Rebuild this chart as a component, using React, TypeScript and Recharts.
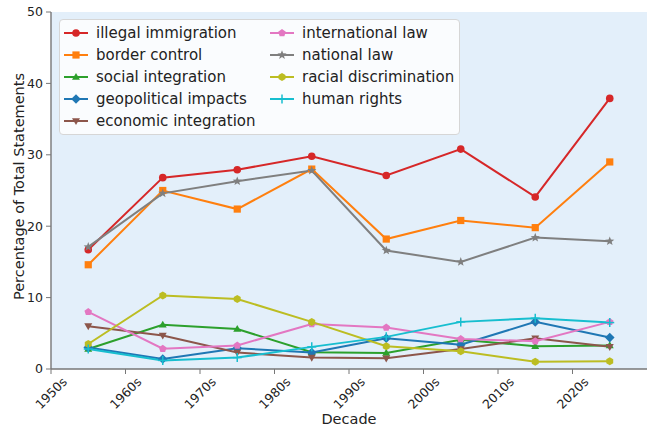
import React from 'react';
import { LineChart, Line, XAxis, YAxis, CartesianGrid, Legend } from 'recharts';

document.body.style.margin = '0';

const DECADES = ['1950s', '1960s', '1970s', '1980s', '1990s', '2000s', '2010s', '2020s'];
const Y_TICKS = [0, 10, 20, 30, 40, 50];

const illegalImmigration = [16.7, 26.8, 27.9, 29.8, 27.1, 30.8, 24.1, 37.9];
const borderControl = [14.6, 25.0, 22.4, 28.0, 18.2, 20.8, 19.8, 29.0];
const socialIntegration = [2.8, 6.2, 5.6, 2.35, 2.25, 4.1, 3.2, 3.3];
const geopoliticalImpacts = [3.0, 1.4, 2.9, 2.3, 4.3, 3.4, 6.6, 4.4];
const economicIntegration = [6.0, 4.7, 2.3, 1.6, 1.5, 2.8, 4.3, 3.1];
const internationalLaw = [8.0, 2.85, 3.3, 6.3, 5.8, 4.2, 3.9, 6.6];
const nationalLaw = [17.1, 24.6, 26.3, 27.8, 16.6, 15.0, 18.4, 17.9];
const racialDiscrimination = [3.5, 10.3, 9.8, 6.6, 3.2, 2.5, 1.0, 1.1];
const humanRights = [2.8, 1.2, 1.6, 3.1, 4.5, 6.6, 7.1, 6.5];

type MarkerKind = 'o' | 's' | '^' | 'D' | 'v' | 'p' | '*' | 'h' | '+';

const SERIES: { key: string; values: number[]; color: string; marker: MarkerKind }[] = [
  { key: 'illegal immigration', values: illegalImmigration, color: '#d62728', marker: 'o' },
  { key: 'border control', values: borderControl, color: '#ff7f0e', marker: 's' },
  { key: 'social integration', values: socialIntegration, color: '#2ca02c', marker: '^' },
  { key: 'geopolitical impacts', values: geopoliticalImpacts, color: '#1f77b4', marker: 'D' },
  { key: 'economic integration', values: economicIntegration, color: '#8c564b', marker: 'v' },
  { key: 'international law', values: internationalLaw, color: '#e377c2', marker: 'p' },
  { key: 'national law', values: nationalLaw, color: '#7f7f7f', marker: '*' },
  { key: 'racial discrimination', values: racialDiscrimination, color: '#bcbd22', marker: 'h' },
  { key: 'human rights', values: humanRights, color: '#17becf', marker: '+' },
];

const data = DECADES.map((d, i) => {
  const row: Record<string, number> = { year: parseInt(d, 10) + 5 };
  SERIES.forEach((s) => {
    row[s.key] = s.values[i];
  });
  return row;
});

const FONT = '"DejaVu Sans", sans-serif';
const SPINE = '#777';

const polygon = (cx: number, cy: number, n: number, r: number, rot: number) =>
  Array.from({ length: n }, (_, i) => {
    const a = rot + (i * 2 * Math.PI) / n;
    return `${cx + r * Math.cos(a)},${cy + r * Math.sin(a)}`;
  }).join(' ');

const star = (cx: number, cy: number, r: number) =>
  Array.from({ length: 10 }, (_, i) => {
    const a = -Math.PI / 2 + (i * Math.PI) / 5;
    const rr = i % 2 === 0 ? r : r * 0.42;
    return `${cx + rr * Math.cos(a)},${cy + rr * Math.sin(a)}`;
  }).join(' ');

const Marker = ({ cx, cy, kind, color }: { cx: number; cy: number; kind: MarkerKind; color: string }) => {
  switch (kind) {
    case 'o':
      return <circle cx={cx} cy={cy} r={3.8} fill={color} />;
    case 's':
      return <rect x={cx - 3.6} y={cy - 3.6} width={7.2} height={7.2} fill={color} />;
    case '^':
      return <polygon points={polygon(cx, cy + 0.5, 3, 4.6, -Math.PI / 2)} fill={color} />;
    case 'v':
      return <polygon points={polygon(cx, cy - 0.5, 3, 4.6, Math.PI / 2)} fill={color} />;
    case 'D':
      return <polygon points={polygon(cx, cy, 4, 4.8, 0)} fill={color} />;
    case 'p':
      return <polygon points={polygon(cx, cy, 5, 4.0, -Math.PI / 2)} fill={color} />;
    case '*':
      return <polygon points={star(cx, cy, 4.8)} fill={color} />;
    case 'h':
      return <polygon points={polygon(cx, cy, 6, 4.0, -Math.PI / 2)} fill={color} />;
    case '+':
      return (
        <g stroke={color} strokeWidth={1.5}>
          <line x1={cx - 4.5} y1={cy} x2={cx + 4.5} y2={cy} />
          <line x1={cx} y1={cy - 4.5} x2={cx} y2={cy + 4.5} />
        </g>
      );
    default:
      return null;
  }
};

const makeDot = (kind: MarkerKind, color: string) => (props: any) => {
  const { cx, cy, index } = props;
  if (cx == null || cy == null) return <g key={`d-${index}`} />;
  return (
    <g key={`d-${index}`}>
      <Marker cx={cx} cy={cy} kind={kind} color={color} />
    </g>
  );
};

const XTick = ({ x, y, payload }: any) => (
  <g transform={`translate(${x},${y + 19})`}>
    <text
      transform="rotate(-45)"
      textAnchor="middle"
      dominantBaseline="central"
      fontSize={12.5}
      fontFamily={FONT}
      fill="#222"
    >
      {`${payload.value}s`}
    </text>
  </g>
);

// axis titles placed where matplotlib put them
const YTitle = () => (
  <text
    transform="translate(19,186.5) rotate(-90)"
    textAnchor="middle"
    dominantBaseline="central"
    fontSize={14.5}
    fontFamily={FONT}
    fill="#222"
  >
    Percentage of Total Statements
  </text>
);

const XTitle = () => (
  <text x={349} y={424} textAnchor="middle" fontSize={14.5} fontFamily={FONT} fill="#222">
    Decade
  </text>
);

const LegendEntry = ({ s }: { s: (typeof SERIES)[number] }) => (
  <div style={{ display: 'flex', alignItems: 'center', height: 22 }}>
    <svg width={32} height={22} style={{ flex: 'none' }}>
      <line x1={4} y1={11} x2={28} y2={11} stroke={s.color} strokeWidth={2} />
      <Marker cx={16} cy={11} kind={s.marker} color={s.color} />
    </svg>
    <span style={{ marginLeft: 4, fontSize: 15, fontFamily: FONT, color: '#222', whiteSpace: 'nowrap' }}>
      {s.key}
    </span>
  </div>
);

const LegendBox = () => (
  <div
    style={{
      width: 401,
      height: 116,
      boxSizing: 'border-box',
      background: 'rgba(255,255,255,0.8)',
      border: '1px solid #d6d6d6',
      borderRadius: 4,
      position: 'relative',
    }}
  >
    <div style={{ position: 'absolute', left: 0, top: 2 }}>
      {SERIES.slice(0, 5).map((s) => (
        <LegendEntry key={s.key} s={s} />
      ))}
    </div>
    <div style={{ position: 'absolute', left: 206, top: 2 }}>
      {SERIES.slice(5).map((s) => (
        <LegendEntry key={s.key} s={s} />
      ))}
    </div>
  </div>
);

export default function App() {
  return (
    <div style={{ width: 652, height: 431, background: '#fff' }}>
      <LineChart width={652} height={431} data={data} margin={{ top: 12, right: 5, left: 0, bottom: 0 }}>
        <CartesianGrid horizontal={false} vertical={false} fill="#e3effa" />
        <XAxis
          dataKey="year"
          type="number"
          domain={[1950, 2030]}
          ticks={DECADES.map((d) => parseInt(d, 10))}
          height={62}
          tickSize={5}
          tickMargin={0}
          tick={<XTick />}
          stroke={SPINE}
          axisLine={{ stroke: SPINE, strokeWidth: 1.4 }}
          tickLine={{ stroke: SPINE }}
          label={<XTitle />}
        />
        <XAxis
          xAxisId="top"
          orientation="top"
          type="number"
          domain={[1950, 2030]}
          height={0}
          tick={false}
          tickLine={false}
          axisLine={{ stroke: SPINE, strokeWidth: 1.4 }}
        />
        <YAxis
          type="number"
          domain={[0, 50]}
          ticks={Y_TICKS}
          width={51}
          tickSize={5}
          tickMargin={3}
          stroke={SPINE}
          axisLine={{ stroke: SPINE, strokeWidth: 1.4 }}
          tick={{ fontSize: 12.5, fontFamily: FONT, fill: '#222' }}
          label={<YTitle />}
        />
        <YAxis
          yAxisId="right"
          orientation="right"
          domain={[0, 50]}
          width={0}
          tick={false}
          tickLine={false}
          axisLine={{ stroke: SPINE, strokeWidth: 1.4 }}
        />
        {SERIES.map((s) => (
          <Line
            key={s.key}
            dataKey={s.key}
            type="linear"
            stroke={s.color}
            strokeWidth={2}
            dot={makeDot(s.marker, s.color)}
            activeDot={false}
            isAnimationActive={false}
          />
        ))}
        <Legend
          verticalAlign="middle"
          align="center"
          content={() => <LegendBox />}
          wrapperStyle={{ left: 59, top: 19, width: 401, height: 116 }}
        />
      </LineChart>
    </div>
  );
}
